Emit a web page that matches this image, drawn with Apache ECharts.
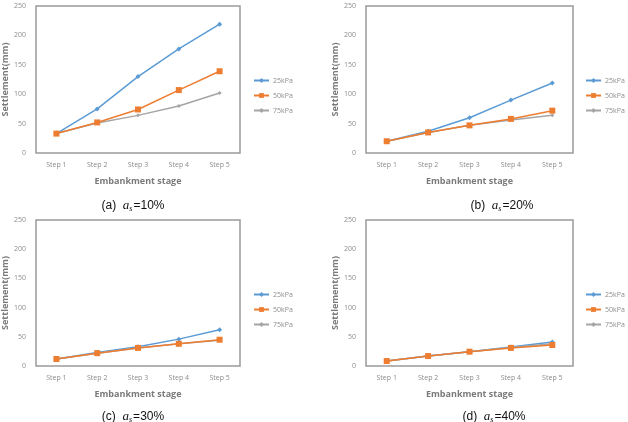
<!DOCTYPE html>
<html>
<head>
<meta charset="utf-8">
<script src="https://cdn.jsdelivr.net/npm/echarts@6/dist/echarts.min.js"></script>
<style>
  html, body { margin: 0; padding: 0; background: #fff; }
  #chart { width: 628px; height: 422px; }
</style>
</head>
<body>
<div id="chart"></div>
<script type="text/javascript">

    // categories and ticks
    var steps = ['Step 1', 'Step 2', 'Step 3', 'Step 4', 'Step 5'];
    var loads = ['25kPa', '50kPa', '75kPa'];
    var yTicks = [0, 50, 100, 150, 200, 250];
    var ratios = ['10%', '20%', '30%', '40%'];
    var panelTags = ['(a)', '(b)', '(c)', '(d)'];

    // settlement (mm)
    var a10_25 = [33, 75, 130, 177, 219];
    var a10_50 = [33, 52, 74, 107, 139];
    var a10_75 = [33, 51, 64, 80, 102];

    var a20_25 = [20, 37, 60, 90, 119];
    var a20_50 = [20, 35, 47, 58, 72];
    var a20_75 = [20, 35, 47, 56, 64];

    var a30_25 = [12, 23, 33, 46, 62];
    var a30_50 = [12, 22, 31, 38, 45];
    var a30_75 = [12, 22, 31, 38, 44];

    var a40_25 = [8.5, 17, 24.5, 32.5, 41];
    var a40_50 = [8.5, 17, 24.5, 31, 36];
    var a40_75 = [8.5, 17, 24.5, 31.5, 38];

    var panels = [
        [a10_25, a10_50, a10_75],
        [a20_25, a20_50, a20_75],
        [a30_25, a30_50, a30_75],
        [a40_25, a40_50, a40_75]
    ];

    var colors = ['#5B9BD5', '#ED7D31', '#A5A5A5'];
    var symbols = ['diamond', 'rect', 'diamond'];
    var symbolSizes = [5, 6, 4];

    // layout of the 4 panels
    var grids = [
        { left: 34, top: 6, width: 206, height: 147 },
        { left: 366, top: 6, width: 207, height: 147 },
        { left: 35, top: 220, width: 205, height: 146 },
        { left: 366, top: 220, width: 207, height: 146 }
    ];
    var captionPos = [
        { left: 128, top: 194 },
        { left: 497, top: 194 },
        { left: 128, top: 405 },
        { left: 489, top: 405 }
    ];
    var legendPos = [
        { left: 253, top: 77 },
        { left: 585, top: 77 },
        { left: 253, top: 291 },
        { left: 585, top: 291 }
    ];

    var font = 'Open Sans';
    var option = {
        animation: false,
        backgroundColor: '#fff',
        color: colors,
        title: [],
        legend: [],
        grid: [],
        xAxis: [],
        yAxis: [],
        series: []
    };

    for (var p = 0; p < 4; p++) {
        option.grid.push({
            left: grids[p].left, top: grids[p].top,
            width: grids[p].width, height: grids[p].height,
            show: true, borderColor: '#9a9a9a', borderWidth: 1.5,
            backgroundColor: '#fff'
        });
        option.xAxis.push({
            type: 'category',
            gridIndex: p,
            data: steps,
            boundaryGap: true,
            axisLine: { show: false },
            axisTick: { show: false },
            axisLabel: { color: '#8c8c8c', fontSize: 7, fontFamily: font, margin: 8 },
            name: 'Embankment stage',
            nameLocation: 'middle',
            nameGap: 24,
            nameTextStyle: { color: '#7a7a7a', fontSize: 9, fontWeight: 'bold', fontFamily: font }
        });
        option.yAxis.push({
            type: 'value',
            gridIndex: p,
            min: yTicks[0],
            max: yTicks[yTicks.length - 1],
            interval: 50,
            splitLine: { show: false },
            axisLine: { show: false },
            axisTick: { show: false },
            axisLabel: { color: '#8c8c8c', fontSize: 7, fontFamily: font, margin: 10 },
            name: 'Settlement(mm)',
            nameLocation: 'middle',
            nameGap: 26,
            nameTextStyle: { color: '#7a7a7a', fontSize: 9, fontWeight: 'bold', fontFamily: font }
        });
        for (var s = 0; s < 3; s++) {
            option.series.push({
                name: loads[s],
                type: 'line',
                xAxisIndex: p,
                yAxisIndex: p,
                data: panels[p][s],
                symbol: symbols[s],
                symbolSize: symbolSizes[s],
                showAllSymbol: true,
                lineStyle: { width: 1.5, color: colors[s] },
                itemStyle: { color: colors[s] },
                z: s === 2 ? 3 : (s === 1 ? 4 : 2)
            });
        }
        option.legend.push({
            orient: 'vertical',
            left: legendPos[p].left,
            top: legendPos[p].top,
            padding: 0,
            itemWidth: 15,
            itemHeight: 6,
            itemGap: 8,
            data: loads,
            textStyle: { color: '#8c8c8c', fontSize: 7, fontFamily: font, padding: [0, 0, 0, -1], overflow: 'none', width: 30 }
        });
        option.title.push({
            text: panelTags[p] + '  {i|a}{s|s}=' + ratios[p],
            left: captionPos[p].left,
            top: captionPos[p].top,
            textAlign: 'center',
            textStyle: {
                fontSize: 12, fontWeight: 'normal', color: '#111',
                fontFamily: 'Liberation Sans',
                rich: {
                    i: { fontSize: 13, fontStyle: 'italic', fontFamily: 'Liberation Serif', color: '#111' },
                    s: { fontSize: 8, fontStyle: 'italic', fontFamily: 'Liberation Serif', color: '#111', verticalAlign: 'bottom', padding: [6, 1, 0, 0] }
                }
            }
        });
    }

    var myChart = echarts.init(document.getElementById('chart'));
    myChart.setOption(option);
</script>
</body>
</html>
